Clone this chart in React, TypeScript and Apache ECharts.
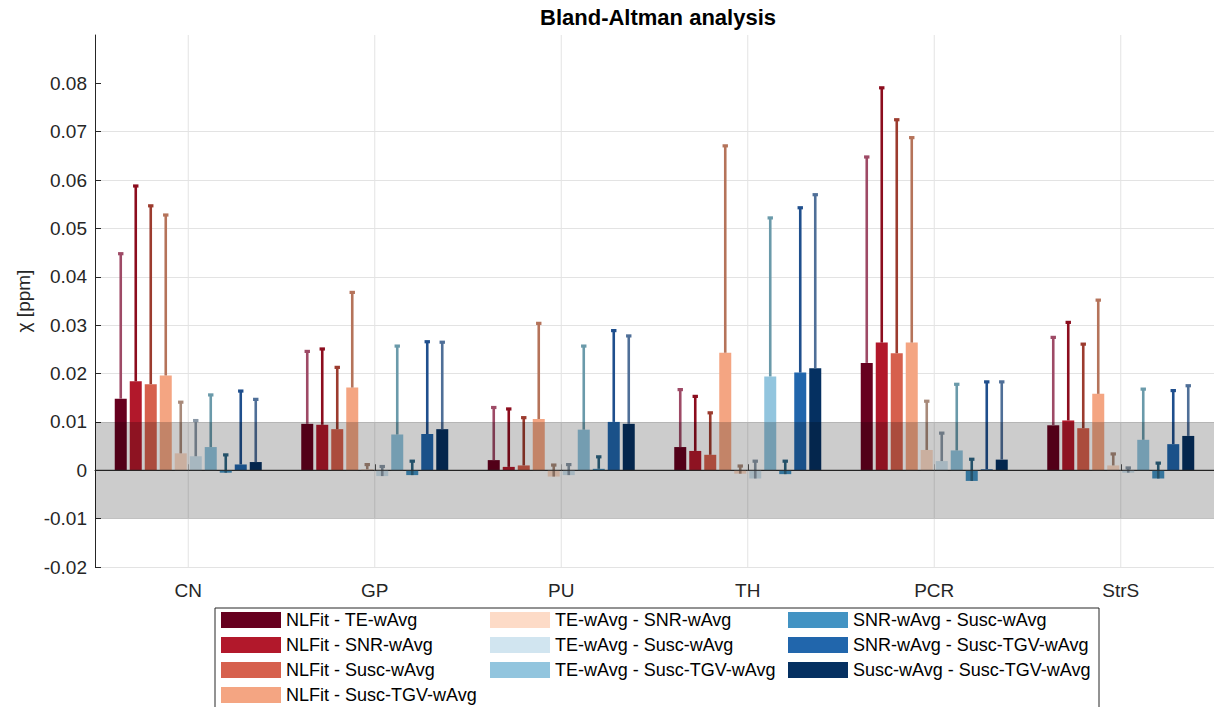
import React, { useEffect, useRef } from 'react';
import * as echarts from 'echarts';

const categories = ['CN', 'GP', 'PU', 'TH', 'PCR', 'StrS'];

const seriesNames = [
  'NLFit - TE-wAvg',
  'NLFit - SNR-wAvg',
  'NLFit - Susc-wAvg',
  'NLFit - Susc-TGV-wAvg',
  'TE-wAvg - SNR-wAvg',
  'TE-wAvg - Susc-wAvg',
  'TE-wAvg - Susc-TGV-wAvg',
  'SNR-wAvg - Susc-wAvg',
  'SNR-wAvg - Susc-TGV-wAvg',
  'Susc-wAvg - Susc-TGV-wAvg',
];

// mean differences (bars)
const nlfitTeMean = [0.0148, 0.0096, 0.0021, 0.0048, 0.0222, 0.0093];
const nlfitSnrMean = [0.0184, 0.0094, 0.0007, 0.004, 0.0264, 0.0103];
const nlfitSuscMean = [0.0178, 0.0085, 0.001, 0.0032, 0.0242, 0.0087];
const nlfitTgvMean = [0.0196, 0.0171, 0.0106, 0.0243, 0.0264, 0.0158];
const teSnrMean = [0.0035, 0.0002, -0.0013, -0.0007, 0.0042, 0.001];
const teSuscMean = [0.0029, -0.0012, -0.001, -0.0017, 0.0019, -0.0005];
const teTgvMean = [0.0048, 0.0074, 0.0084, 0.0194, 0.0041, 0.0063];
const snrSuscMean = [-0.0005, -0.001, 0.0003, -0.0008, -0.0022, -0.0017];
const snrTgvMean = [0.0012, 0.0075, 0.01, 0.0202, 0.0002, 0.0054];
const suscTgvMean = [0.0017, 0.0085, 0.0096, 0.0211, 0.0022, 0.0071];

// upper limits of agreement (whisker tops)
const nlfitTeUpper = [0.0448, 0.0246, 0.013, 0.0167, 0.0648, 0.0275];
const nlfitSnrUpper = [0.0588, 0.0251, 0.0127, 0.0153, 0.0791, 0.0306];
const nlfitSuscUpper = [0.0547, 0.0213, 0.0109, 0.0119, 0.0725, 0.0261];
const nlfitTgvUpper = [0.0528, 0.0368, 0.0304, 0.0671, 0.0688, 0.0352];
const teSnrUpper = [0.0141, 0.0012, 0.0011, 0.0009, 0.0143, 0.0034];
const teSuscUpper = [0.0103, 0.0008, 0.0012, 0.0019, 0.0077, 0.0005];
const teTgvUpper = [0.0156, 0.0257, 0.0257, 0.0522, 0.0178, 0.0168];
const snrSuscUpper = [0.0032, 0.0019, 0.0028, 0.0019, 0.0023, 0.0015];
const snrTgvUpper = [0.0164, 0.0266, 0.0289, 0.0543, 0.0183, 0.0165];
const suscTgvUpper = [0.0147, 0.0265, 0.0278, 0.057, 0.0183, 0.0175];

const meanValues = [
  nlfitTeMean, nlfitSnrMean, nlfitSuscMean, nlfitTgvMean, teSnrMean,
  teSuscMean, teTgvMean, snrSuscMean, snrTgvMean, suscTgvMean,
];
const upperValues = [
  nlfitTeUpper, nlfitSnrUpper, nlfitSuscUpper, nlfitTgvUpper, teSnrUpper,
  teSuscUpper, teTgvUpper, snrSuscUpper, snrTgvUpper, suscTgvUpper,
];

const barColors = [
  '#67001f', '#b2182b', '#d6604d', '#f4a582', '#fddbc7',
  '#d1e5f0', '#92c5de', '#4393c3', '#2166ac', '#053061',
];
const whiskerColors = [
  '#9e4a66', '#8c0d1e', '#9c3b2e', '#b5735a', '#a88a7a',
  '#8a98a6', '#6a9aaa', '#2d6684', '#1f4f8d', '#4f6f98',
];

const yMin = -0.02;
const yMax = 0.09;
const yStep = 0.01;
const yTicks = [-0.02, -0.01, 0, 0.01, 0.02, 0.03, 0.04, 0.05, 0.06, 0.07, 0.08];
const bandLow = -0.01;
const bandHigh = 0.01;

const legendColumns = [
  [0, 1, 2, 3],
  [4, 5, 6],
  [7, 8, 9],
];

const FONT = '"Liberation Sans", Arial, Helvetica, sans-serif';
const BAR_W = 12;
const BAR_GAP = 3;
const GRID = { left: 95, top: 35, width: 1126, height: 532 };

export default function App() {
  const ref = useRef<HTMLDivElement>(null);

  useEffect(() => {
    if (!ref.current) return;
    const chart = echarts.init(ref.current, undefined, { renderer: 'svg' });

    const whiskerData: number[][] = [];
    meanValues.forEach((arr, s) => {
      arr.forEach((m, c) => {
        whiskerData.push([c, s, m, upperValues[s][c]]);
      });
    });

    const barSeries = seriesNames.map((name, s) => ({
      name,
      type: 'bar',
      data: meanValues[s],
      barWidth: BAR_W,
      barGap: `${(BAR_GAP / BAR_W) * 100}%`,
      itemStyle: { color: barColors[s] },
      z: 2,
      silent: true,
    }));

    const legends = legendColumns.map((col, i) => ({
      orient: 'vertical',
      left: [221, 490, 788][i],
      top: 611,
      padding: 0,
      itemWidth: 60,
      itemHeight: 16,
      itemGap: 7,
      icon: 'rect',
      selectedMode: false,
      data: col.map((k) => seriesNames[k]),
      textStyle: { fontSize: 18, color: '#000', fontFamily: FONT },
    }));

    const option: any = {
      animation: false,
      backgroundColor: '#fff',
      textStyle: { fontFamily: FONT },
      grid: { ...GRID, containLabel: false },
      legend: legends,
      graphic: [
        {
          type: 'rect',
          shape: { x: 215, y: 608, width: 884, height: 120 },
          style: { fill: '#fff', stroke: '#262626', lineWidth: 1 },
          z: -1,
        },
        {
          type: 'text',
          x: GRID.left + GRID.width / 2,
          y: 17,
          style: {
            text: 'Bland-Altman analysis',
            fontSize: 22,
            fontWeight: 'bold',
            fontFamily: FONT,
            fill: '#000',
            align: 'center',
            verticalAlign: 'middle',
          },
        },
      ],
      xAxis: {
        type: 'category',
        data: categories,
        axisLine: { show: true, lineStyle: { color: '#262626', width: 1 } },
        axisTick: { show: true, inside: true, alignWithLabel: true, length: 6, lineStyle: { color: '#262626' } },
        axisLabel: { fontSize: 19, color: '#262626', margin: 14, fontFamily: FONT },
        splitLine: { show: false },
      },
      yAxis: {
        type: 'value',
        min: yMin,
        max: yMax,
        interval: yStep,
        name: 'χ [ppm]',
        nameLocation: 'middle',
        nameGap: 62,
        nameTextStyle: { fontSize: 19, color: '#262626', fontFamily: FONT },
        axisLine: { show: true, lineStyle: { color: '#262626', width: 1 } },
        axisTick: {
          show: true,
          inside: true,
          length: 6,
          customValues: yTicks,
          lineStyle: { color: '#262626' },
        },
        axisLabel: {
          fontSize: 19,
          color: '#262626',
          margin: 8,
          fontFamily: FONT,
          formatter: (v: number) => {
            const r = Math.round(v * 100) / 100;
            if (r > yMax - yStep / 2) return '';
            if (r === 0) return '0';
            return r.toFixed(2);
          },
        },
        splitLine: { show: true, showMaxLine: false, lineStyle: { color: '#e3e3e3', width: 1 } },
      },
      series: [
        {
          type: 'custom',
          name: 'vgrid',
          z: 1,
          silent: true,
          data: categories.map((_, i) => [i, 0]),
          encode: { x: 0, y: 1 },
          renderItem: (params: any, api: any) => {
            const cs = params.coordSys;
            const x = api.coord([api.value(0), 0])[0];
            return {
              type: 'line',
              shape: { x1: x, y1: cs.y, x2: x, y2: cs.y + cs.height },
              style: { stroke: '#e3e3e3', lineWidth: 1 },
            };
          },
        },
        ...barSeries,
        {
          type: 'custom',
          name: 'whiskers',
          z: 3,
          silent: true,
          data: whiskerData,
          encode: { x: 0, y: [2, 3] },
          renderItem: (params: any, api: any) => {
            const c = api.value(0);
            const s = api.value(1);
            const lo = api.coord([c, api.value(2)]);
            const hi = api.coord([c, api.value(3)]);
            const x = lo[0] + (s - 4.5) * (BAR_W + BAR_GAP);
            const col = whiskerColors[s];
            return {
              type: 'group',
              children: [
                {
                  type: 'line',
                  shape: { x1: x, y1: lo[1], x2: x, y2: hi[1] },
                  style: { stroke: col, lineWidth: 2.6 },
                },
                {
                  type: 'rect',
                  shape: { x: x - 2.7, y: hi[1] - 1.5, width: 5.4, height: 3.2 },
                  style: { fill: col },
                },
              ],
            };
          },
        },
        {
          type: 'custom',
          name: 'band',
          z: 10,
          silent: true,
          data: [[0, 0]],
          encode: { x: 0, y: 1 },
          renderItem: (params: any, api: any) => {
            const cs = params.coordSys;
            const top = api.coord([0, bandHigh])[1];
            const bot = api.coord([0, bandLow])[1];
            const zero = api.coord([0, 0])[1];
            return {
              type: 'group',
              children: [
                {
                  type: 'rect',
                  shape: { x: cs.x, y: top, width: cs.width, height: bot - top },
                  style: { fill: 'rgba(0,0,0,0.2)' },
                },
                {
                  type: 'line',
                  shape: { x1: cs.x, y1: zero, x2: cs.x + cs.width, y2: zero },
                  style: { stroke: '#262626', lineWidth: 1 },
                },
              ],
            };
          },
        },
      ],
    };

    chart.setOption(option);
    return () => chart.dispose();
  }, []);

  return (
    <div
      ref={ref}
      style={{ position: 'absolute', left: 0, top: 0, width: 1214, height: 707 }}
    />
  );
}
